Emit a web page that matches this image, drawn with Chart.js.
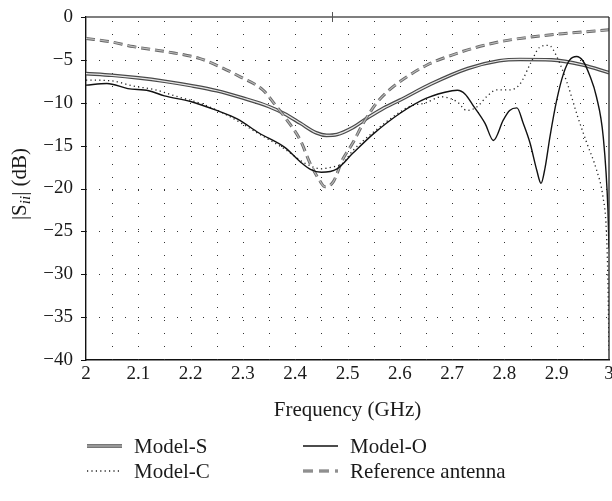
<!DOCTYPE html>
<html>
<head>
<meta charset="utf-8">
<script src="https://cdn.jsdelivr.net/npm/chart.js@4.4.0/dist/chart.umd.min.js"></script>
<style>
  html, body { margin: 0; padding: 0; background: #fff; }
  #wrap { width: 612px; height: 501px; position: relative; }
  canvas { display: block; }
</style>
</head>
<body>
<div id="wrap"><canvas id="chart" width="612" height="501"></canvas></div>
<script>
// Axis ticks
const xTicks = [2, 2.1, 2.2, 2.3, 2.4, 2.5, 2.6, 2.7, 2.8, 2.9, 3];
const yTicks = [0, -5, -10, -15, -20, -25, -30, -35, -40];

// Model-S (double line)
const freqS = [2.00, 2.05, 2.10, 2.15, 2.20, 2.25, 2.30, 2.35, 2.38, 2.41, 2.44, 2.46, 2.48, 2.51, 2.54, 2.57, 2.60, 2.66, 2.73, 2.79, 2.83, 2.89, 2.95, 3.00];
const dbS   = [-6.6, -6.8, -7.1, -7.5, -8.0, -8.6, -9.45, -10.45, -11.3, -12.4, -13.5, -13.8, -13.7, -12.9, -11.7, -10.6, -9.7, -7.8, -6.0, -5.1, -4.95, -5.0, -5.6, -6.5];

// Model-O (solid line)
const freqO = [2.00, 2.04, 2.08, 2.12, 2.15, 2.20, 2.25, 2.29, 2.33, 2.38, 2.41, 2.43, 2.45, 2.48, 2.51, 2.55, 2.60, 2.65, 2.70, 2.71, 2.725, 2.74, 2.763, 2.779, 2.798, 2.81, 2.824, 2.836, 2.849, 2.862, 2.87, 2.878, 2.887, 2.90, 2.913, 2.925, 2.938, 2.95, 2.963, 2.976, 2.989, 2.998, 3.00];
const dbO   = [-7.95, -7.75, -8.35, -8.6, -9.2, -9.85, -10.9, -11.9, -13.5, -15.2, -16.9, -17.8, -18.1, -17.7, -15.9, -13.6, -11.25, -9.5, -8.6, -8.55, -9.0, -10.3, -12.4, -14.4, -12.0, -10.9, -10.6, -12.4, -14.7, -17.9, -19.4, -17.5, -14.0, -9.7, -6.6, -5.0, -4.6, -5.1, -6.8, -9.3, -14.0, -22.5, -27.0];

// Model-C (dotted line)
const freqC = [2.00, 2.05, 2.09, 2.13, 2.17, 2.22, 2.27, 2.33, 2.38, 2.42, 2.45, 2.47, 2.49, 2.51, 2.55, 2.60, 2.62, 2.65, 2.68, 2.71, 2.728, 2.747, 2.766, 2.785, 2.81, 2.83, 2.85, 2.868, 2.885, 2.90, 2.92, 2.94, 2.957, 2.976, 2.988, 2.995, 2.998, 3.00];
const dbC   = [-7.35, -7.45, -8.05, -8.45, -9.2, -10.1, -11.45, -13.6, -15.4, -17.1, -17.7, -17.5, -17.1, -15.6, -13.4, -11.1, -10.4, -10.0, -9.3, -9.9, -10.9, -10.5, -9.3, -8.5, -8.5, -7.8, -5.4, -3.5, -3.3, -4.6, -7.7, -11.6, -14.6, -17.8, -20.8, -25.0, -31.0, -39.0];

// Reference antenna (dashed line)
const freqR = [2.00, 2.046, 2.09, 2.154, 2.218, 2.256, 2.294, 2.338, 2.365, 2.384, 2.41, 2.428, 2.444, 2.457, 2.473, 2.49, 2.51, 2.53, 2.556, 2.58, 2.613, 2.652, 2.69, 2.74, 2.79, 2.855, 2.92, 3.00];
const dbR   = [-2.5, -2.88, -3.45, -4.05, -4.85, -5.8, -6.95, -8.5, -10.5, -12.0, -14.4, -17.0, -18.8, -19.8, -19.2, -16.7, -14.7, -12.4, -10.0, -8.5, -7.0, -5.6, -4.65, -3.65, -2.9, -2.3, -1.9, -1.5];

const topMarkFreq = 2.47;

const FONT = "'Liberation Serif', 'Times New Roman', serif";
const pts = (fs, ds) => fs.map((f, i) => ({ x: f, y: ds[i] }));

const refDash = [9, 5];
const dotDash = [1.2, 3.2];

const datasets = [
  { label: 'Model-O', data: pts(freqO, dbO), borderColor: '#111', borderWidth: 1.4, order: 1 },
  { label: 'Model-C', data: pts(freqC, dbC), borderColor: '#222', borderWidth: 1.3, borderDash: dotDash, order: 2 },
  { label: 'Reference antenna', data: pts(freqR, dbR), borderColor: '#b8b8b8', borderWidth: 1.2, borderDash: refDash, order: 3 },
  { label: 'Reference antenna', data: pts(freqR, dbR), borderColor: '#666', borderWidth: 3.0, borderDash: refDash, order: 4 },
  { label: 'Model-S', data: pts(freqS, dbS), borderColor: '#e6e6e6', borderWidth: 1.2, order: 5 },
  { label: 'Model-S', data: pts(freqS, dbS), borderColor: '#4a4a4a', borderWidth: 3.6, order: 6 }
].map(d => Object.assign({ pointRadius: 0, fill: false, cubicInterpolationMode: 'monotone', borderCapStyle: 'butt' }, d));

// dotted grid, frame, tick marks, y title and legend
const framePlugin = {
  id: 'frame',
  beforeDatasetsDraw(chart) {
    const { ctx, chartArea: a, scales: { x, y } } = chart;
    ctx.save();
    ctx.strokeStyle = '#333';
    ctx.lineWidth = 1;
    ctx.setLineDash([1, 12]);
    for (let i = 1; i < xTicks.length * 2 - 2; i++) {
      const f = xTicks[0] + i * 0.05;
      const px = Math.round(x.getPixelForValue(f)) + 0.5;
      ctx.beginPath(); ctx.moveTo(px, a.bottom); ctx.lineTo(px, a.top); ctx.stroke();
    }
    yTicks.slice(1, -1).forEach(v => {
      const py = Math.round(y.getPixelForValue(v)) + 0.5;
      ctx.beginPath(); ctx.moveTo(a.left, py); ctx.lineTo(a.right, py); ctx.stroke();
    });
    ctx.restore();
  },
  afterDatasetsDraw(chart) {
    const { ctx, chartArea: a, scales: { x, y } } = chart;
    ctx.save();
    ctx.setLineDash([]);
    ctx.strokeStyle = '#555';
    ctx.lineWidth = 1.6;
    ctx.beginPath(); ctx.moveTo(a.left, a.top); ctx.lineTo(a.right, a.top); ctx.stroke();
    ctx.strokeStyle = '#222';
    ctx.lineWidth = 1.3;
    ctx.beginPath(); ctx.moveTo(a.right, a.top); ctx.lineTo(a.right, a.bottom); ctx.stroke();
    ctx.strokeStyle = '#111';
    ctx.lineWidth = 1;
    yTicks.forEach(v => {
      const py = Math.round(y.getPixelForValue(v)) + 0.5;
      ctx.beginPath(); ctx.moveTo(a.left - 5, py); ctx.lineTo(a.left, py); ctx.stroke();
    });
    const mx = Math.round(x.getPixelForValue(topMarkFreq)) + 0.5;
    ctx.strokeStyle = '#555';
    ctx.beginPath(); ctx.moveTo(mx, a.top - 5); ctx.lineTo(mx, a.top + 5); ctx.stroke();
    ctx.restore();
  },
  afterDraw(chart) {
    const { ctx } = chart;
    ctx.save();
    // y-axis title: |S_ii| (dB)
    ctx.translate(19, 184);
    ctx.rotate(-Math.PI / 2);
    ctx.fillStyle = '#1a1a1a';
    ctx.textBaseline = 'alphabetic';
    const parts = [
      { t: '|S', f: `21px ${FONT}`, dy: 0 },
      { t: 'ii', f: `italic 15px ${FONT}`, dy: 4 },
      { t: '| (dB)', f: `21px ${FONT}`, dy: 0 }
    ];
    let w = 0;
    parts.forEach(p => { ctx.font = p.f; p.w = ctx.measureText(p.t).width; w += p.w; });
    let cx = -w / 2;
    parts.forEach(p => { ctx.font = p.f; ctx.fillText(p.t, cx, 7 + p.dy); cx += p.w; });
    ctx.restore();

    // legend, two columns
    const items = [
      { label: 'Model-S', kind: 'double', x: 87, y: 446 },
      { label: 'Model-O', kind: 'solid', x: 303, y: 446 },
      { label: 'Model-C', kind: 'dotted', x: 87, y: 471 },
      { label: 'Reference antenna', kind: 'dashed', x: 303, y: 471 }
    ];
    ctx.save();
    items.forEach(it => {
      const x0 = it.x, x1 = it.x + 35, yy = it.y;
      const seg = (color, width, dash) => {
        ctx.strokeStyle = color; ctx.lineWidth = width; ctx.setLineDash(dash);
        ctx.beginPath(); ctx.moveTo(x0, yy); ctx.lineTo(x1, yy); ctx.stroke();
      };
      if (it.kind === 'double') { seg('#4a4a4a', 3.6, []); seg('#e6e6e6', 1.2, []); }
      else if (it.kind === 'solid') { seg('#111', 1.4, []); }
      else if (it.kind === 'dotted') { seg('#222', 1.3, dotDash); }
      else { seg('#666', 3.0, [10, 6]); seg('#b8b8b8', 1.2, [10, 6]); }
      ctx.setLineDash([]);
      ctx.fillStyle = '#1a1a1a';
      ctx.font = `21px ${FONT}`;
      ctx.textBaseline = 'middle';
      ctx.fillText(it.label, x1 + 12, yy + 1);
    });
    ctx.restore();
  }
};

new Chart(document.getElementById('chart'), {
  type: 'line',
  data: { datasets },
  options: {
    responsive: false,
    animation: false,
    devicePixelRatio: 1,
    layout: { padding: { left: 0, right: 3, top: 17, bottom: 71 } },
    plugins: { legend: { display: false }, tooltip: { enabled: false } },
    scales: {
      x: {
        type: 'linear', min: 2, max: 3,
        grid: { display: false, drawTicks: false },
        border: { display: true, color: '#111', width: 1.4 },
        afterBuildTicks: s => { s.ticks = xTicks.map(v => ({ value: v })); },
        afterFit: s => { s.height = 501 - 71 - 360; s.paddingLeft = 0; s.paddingRight = 0; },
        ticks: {
          color: '#1a1a1a', padding: 3, maxRotation: 0, autoSkip: false,
          font: { family: FONT, size: 19 },
          callback: v => (Number.isInteger(v) ? String(v) : v.toFixed(1))
        },
        title: {
          display: true, text: 'Frequency (GHz)', color: '#1a1a1a',
          font: { family: FONT, size: 21 }, padding: { top: 0, bottom: 7 }
        }
      },
      y: {
        type: 'linear', min: -40, max: 0,
        grid: { display: false, drawTicks: false },
        border: { display: true, color: '#111', width: 1.4 },
        afterBuildTicks: s => { s.ticks = yTicks.map(v => ({ value: v })); },
        afterFit: s => { s.width = 86; s.paddingTop = 0; s.paddingBottom = 0; },
        ticks: {
          color: '#1a1a1a', padding: 13, autoSkip: false,
          font: { family: FONT, size: 19 },
          callback: v => (v < 0 ? '\u2212' + Math.abs(v) : String(v))
        }
      }
    }
  },
  plugins: [framePlugin]
});
</script>
</body>
</html>
